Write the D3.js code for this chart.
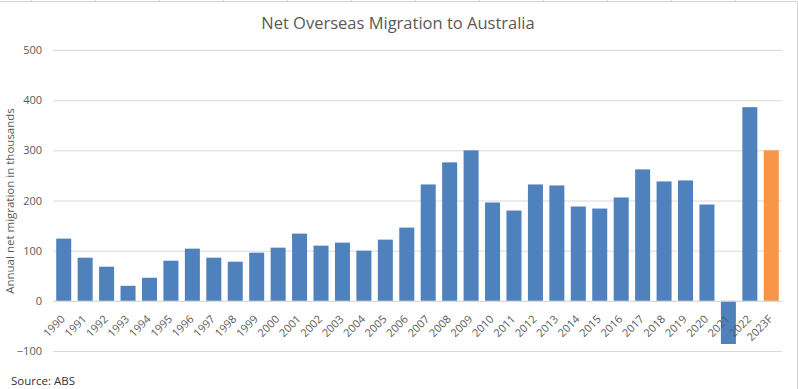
<!DOCTYPE html>
<html><head><meta charset="utf-8">
<script src="https://cdn.jsdelivr.net/npm/d3@7"></script>
<style>body{margin:0;background:#fff;}svg{display:block;}</style>
</head><body>
<svg id="c" width="798" height="389"></svg>
<script>
const years = ["1990","1991","1992","1993","1994","1995","1996","1997","1998","1999","2000","2001","2002","2003","2004","2005","2006","2007","2008","2009","2010","2011","2012","2013","2014","2015","2016","2017","2018","2019","2020","2021","2022","2023F"];
const values = [124,86,68,30,46,80,104,86,78,96,106,134,110,116,100,122,146,232,276,300,196,180,232,230,188,184,206,262,238,240,192,-86,386,300];
const forecastLabels = ["2023F"];
const yTicks = [-100,0,100,200,300,400,500];
const title = "Net Overseas Migration to Australia";
const yLabel = "Annual net migration in thousands";
const source = "Source: ABS";

const svg = d3.select("#c");
const font = "'Open Sans', sans-serif";
const textCol = "#595959";
const left = 53, right = 782;
const x = d3.scaleBand().domain(years).range([left, right]).paddingInner(0.3).paddingOuter(0.15);
const y = d3.scaleLinear().domain([-100, 500]).range([351, 50]);

// spreadsheet cell lines at top
const cellXs = d3.range(31, 798, 64);
svg.append("line").attr("x1",0).attr("x2",797).attr("y1",1.5).attr("y2",1.5).attr("stroke","#d4d4d4");
svg.selectAll(".cell").data(cellXs).join("line").attr("x1",d=>d+0.5).attr("x2",d=>d+0.5).attr("y1",0).attr("y2",1.5).attr("stroke","#d4d4d4");
svg.append("line").attr("x1",797.5).attr("x2",797.5).attr("y1",1.5).attr("y2",389).attr("stroke","#d4d4d4");

// gridlines
const yAxis = d3.axisLeft(y).tickValues(yTicks).tickSize(-(right-left)).tickPadding(11);
const ga = svg.append("g").attr("transform",`translate(${left},0)`).call(yAxis);
ga.select(".domain").remove();
ga.selectAll(".tick line").attr("stroke","#d9d9d9").attr("stroke-width",1);
ga.selectAll(".tick text").attr("fill",textCol).style("font-family",font).style("font-size","11px");

// bars
svg.selectAll(".bar").data(years).join("rect")
  .attr("x", d => x(d))
  .attr("width", x.bandwidth())
  .attr("y", (d,i) => y(Math.max(0, values[i])))
  .attr("height", (d,i) => Math.abs(y(values[i]) - y(0)))
  .attr("fill", d => forecastLabels.includes(d) ? "#F79646" : "#4F81BD");

// x axis labels
const xAxis = d3.axisBottom(x).tickSize(0).tickPadding(0);
const gx = svg.append("g").attr("transform",`translate(0,${y(0)})`).call(xAxis);
gx.select(".domain").attr("stroke","#d9d9d9");
gx.selectAll(".tick text")
  .attr("fill",textCol).style("font-family",font).style("font-size","11px")
  .attr("text-anchor","end").attr("dy",null).attr("y",null)
  .attr("transform","translate(2,19) rotate(-45)");

// title
svg.append("text").attr("x",398).attr("y",29).attr("text-anchor","middle")
  .attr("fill",textCol).style("font-family",font).style("font-size","16.5px").text(title);

// y label
svg.append("text").attr("transform","translate(14,201) rotate(-90)").attr("text-anchor","middle")
  .attr("fill",textCol).style("font-family",font).style("font-size","11.5px").text(yLabel);

// source
svg.append("text").attr("x",11).attr("y",385).attr("fill","#333")
  .style("font-family",font).style("font-size","11.5px").text(source);
</script>
</body></html>
